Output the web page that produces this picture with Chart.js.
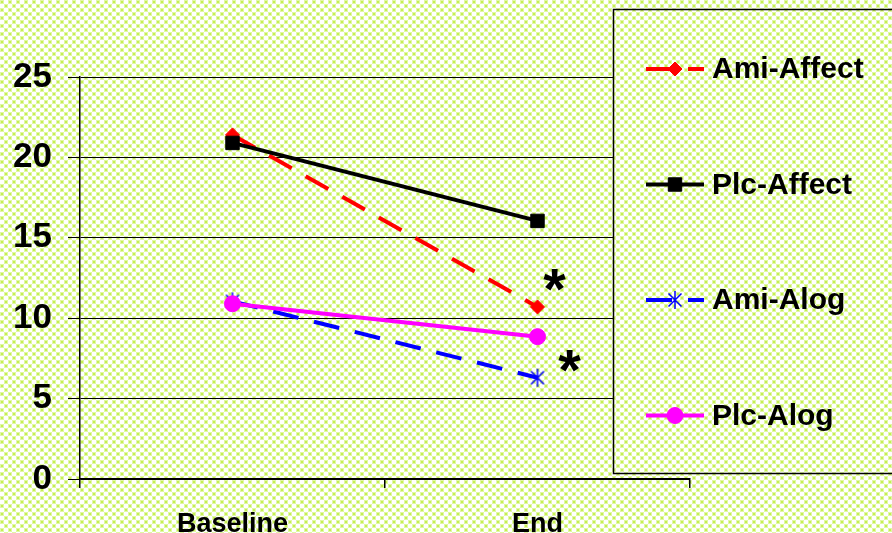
<!DOCTYPE html>
<html>
<head>
<meta charset="utf-8">
<script src="https://cdn.jsdelivr.net/npm/chart.js@4.4.1/dist/chart.umd.min.js"></script>
<style>
    body { margin: 0; background: #fff; }
    #wrap { width: 892px; height: 533px; }
</style>
</head>
<body>
<div id="wrap"><canvas id="chart" width="892" height="533"></canvas></div>
<script>
// Data
const categories = ['Baseline', 'End'];
const amiAffect = [21.4, 10.7];
const plcAffect = [20.9, 16.05];
const amiAlog = [11.05, 6.3];
const plcAlog = [10.9, 8.85];
const yTicks = [0, 5, 10, 15, 20, 25];

const FONT = "'Liberation Sans', Arial, sans-serif";

// dotted yellow-green background like the original slide
function makePattern() {
    const c = document.createElement('canvas');
    c.width = 8; c.height = 8;
    const g = c.getContext('2d');
    g.fillStyle = '#ffffff';
    g.fillRect(0, 0, 8, 8);
    g.fillStyle = '#e0f7a4';
    g.fillRect(0, 0, 4, 4);
    g.fillRect(4, 4, 4, 4);
    g.fillStyle = '#c4ef52';
    g.fillRect(1, 1, 2, 2);
    g.fillRect(5, 5, 2, 2);
    return c;
}
const patternCanvas = makePattern();

// star marker: vertical stroke plus an X
function makeStar(color) {
    const c = document.createElement('canvas');
    c.width = 20; c.height = 20;
    const g = c.getContext('2d');
    g.strokeStyle = color;
    g.lineWidth = 1.5;
    g.beginPath();
    g.moveTo(10, 1); g.lineTo(10, 19);
    g.moveTo(3.5, 3.5); g.lineTo(16.5, 16.5);
    g.moveTo(16.5, 3.5); g.lineTo(3.5, 16.5);
    g.stroke();
    return c;
}
const blueStar = makeStar('#0000ff');

const bgPlugin = {
    id: 'bgPattern',
    beforeDraw(chart) {
        const ctx = chart.ctx;
        ctx.save();
        ctx.fillStyle = ctx.createPattern(patternCanvas, 'repeat');
        ctx.fillRect(0, 0, chart.width, chart.height);
        ctx.restore();
    }
};

// asterisks next to the End points
const notePlugin = {
    id: 'notes',
    afterDatasetsDraw(chart, args, opts) {
        const ctx = chart.ctx;
        ctx.save();
        ctx.fillStyle = '#000';
        ctx.font = 'bold 58px ' + FONT;
        ctx.textAlign = 'center';
        ctx.textBaseline = 'alphabetic';
        opts.items.forEach(n => {
            const pt = chart.getDatasetMeta(n.dataset).data[n.index];
            ctx.fillText('*', pt.x + n.dx, pt.y + n.dy);
        });
        ctx.restore();
    }
};

function drawMarker(ctx, ds, x, y) {
    const style = ds.pointStyle;
    const r = ds.pointRadius;
    ctx.fillStyle = ds.pointBackgroundColor;
    ctx.strokeStyle = ds.pointBorderColor;
    ctx.lineWidth = ds.pointBorderWidth;
    ctx.setLineDash([]);
    ctx.beginPath();
    if (style instanceof HTMLCanvasElement) {
        ctx.drawImage(style, x - style.width / 2, y - style.height / 2);
        return;
    } else if (style === 'rectRot') {
        ctx.moveTo(x - r, y); ctx.lineTo(x, y - r); ctx.lineTo(x + r, y); ctx.lineTo(x, y + r);
        ctx.closePath();
    } else if (style === 'rect') {
        const s = Math.SQRT1_2 * r;
        ctx.rect(x - s, y - s, 2 * s, 2 * s);
    } else {
        ctx.arc(x, y, r, 0, Math.PI * 2);
    }
    ctx.fill();
    ctx.stroke();
}

// legend box that sits over the right part of the plot
const legendPlugin = {
    id: 'boxLegend',
    afterDraw(chart, args, opts) {
        const ctx = chart.ctx;
        ctx.save();
        ctx.fillStyle = ctx.createPattern(patternCanvas, 'repeat');
        ctx.fillRect(opts.x, opts.y, opts.w, opts.h);
        ctx.strokeStyle = '#000';
        ctx.lineWidth = 1.5;
        ctx.strokeRect(opts.x, opts.y, opts.w, opts.h);

        chart.data.datasets.forEach((ds, i) => {
            const y = opts.firstY + i * opts.stepY;
            ctx.strokeStyle = ds.borderColor;
            ctx.lineWidth = ds.borderWidth;
            ctx.setLineDash(ds.borderDash || []);
            ctx.beginPath();
            ctx.moveTo(opts.lineX, y);
            ctx.lineTo(opts.lineX + opts.lineW, y);
            ctx.stroke();
            drawMarker(ctx, ds, opts.lineX + opts.lineW / 2, y);
            ctx.fillStyle = '#000';
            ctx.font = 'bold 30px ' + FONT;
            ctx.textAlign = 'left';
            ctx.textBaseline = 'middle';
            ctx.fillText(ds.label, opts.textX, y + 1);
        });
        ctx.restore();
    }
};

const ctx = document.getElementById('chart');

new Chart(ctx, {
    type: 'line',
    data: {
        labels: categories,
        datasets: [
            {
                label: 'Ami-Affect',
                data: amiAffect,
                borderColor: '#ff0000',
                borderWidth: 4,
                borderDash: [26, 16],
                pointStyle: 'rectRot',
                pointRadius: 7,
                pointBackgroundColor: '#ff0000',
                pointBorderColor: '#ff0000',
                pointBorderWidth: 1,
                order: 4
            },
            {
                label: 'Plc-Affect',
                data: plcAffect,
                borderColor: '#000000',
                borderWidth: 4,
                pointStyle: 'rect',
                pointRadius: 9.5,
                pointBackgroundColor: '#000000',
                pointBorderColor: '#000000',
                pointBorderWidth: 1,
                order: 3
            },
            {
                label: 'Ami-Alog',
                data: amiAlog,
                borderColor: '#0000ff',
                borderWidth: 4,
                borderDash: [26, 16],
                pointStyle: blueStar,
                pointRadius: 9,
                pointBackgroundColor: '#0000ff',
                pointBorderColor: '#0000ff',
                pointBorderWidth: 1.5,
                order: 2
            },
            {
                label: 'Plc-Alog',
                data: plcAlog,
                borderColor: '#ff00ff',
                borderWidth: 4,
                pointStyle: 'circle',
                pointRadius: 8,
                pointBackgroundColor: '#ff00ff',
                pointBorderColor: '#ff00ff',
                pointBorderWidth: 1,
                order: 1
            }
        ]
    },
    options: {
        responsive: false,
        animation: false,
        tension: 0,
        layout: { padding: { top: 77, right: 202, left: 0, bottom: 0 } },
        scales: {
            x: {
                type: 'category',
                offset: true,
                afterFit: s => { s.height = 54; },
                grid: { offset: true, drawOnChartArea: false, color: '#000', tickLength: 9, lineWidth: 1.5 },
                border: { color: '#000', width: 1.5 },
                ticks: { color: '#000', padding: 20, font: { family: FONT, size: 27, weight: 'bold' } }
            },
            y: {
                min: 0,
                max: 25,
                afterFit: s => { s.width = 80; },
                afterBuildTicks: s => { s.ticks = yTicks.map(v => ({ value: v })); },
                grid: { color: '#000', lineWidth: 1, tickLength: 12 },
                border: { color: '#000', width: 1.5 },
                ticks: { color: '#000', padding: 16, font: { family: FONT, size: 35, weight: 'bold' } }
            }
        },
        plugins: {
            legend: { display: false },
            tooltip: { enabled: false },
            notes: {
                items: [
                    { dataset: 0, index: 1, dx: 17, dy: 2 },
                    { dataset: 2, index: 1, dx: 32, dy: 12 }
                ]
            },
            boxLegend: {
                x: 613.5, y: 9.5, w: 290, h: 464,
                firstY: 69, stepY: 115.5,
                lineX: 646, lineW: 58, textX: 712
            }
        }
    },
    plugins: [bgPlugin, notePlugin, legendPlugin]
});
</script>
</body>
</html>
